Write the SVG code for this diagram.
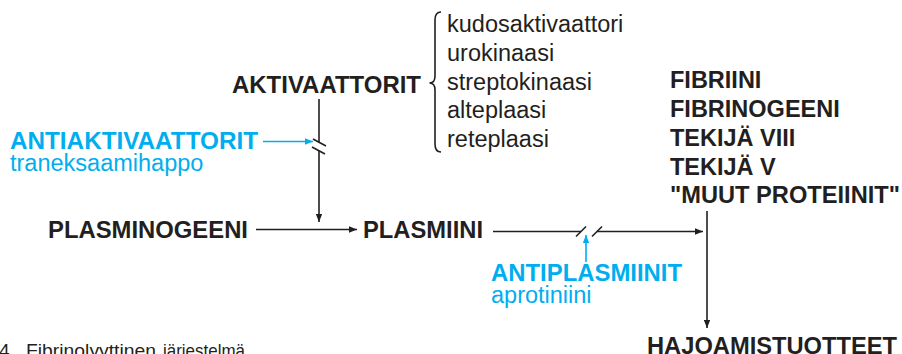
<svg xmlns="http://www.w3.org/2000/svg" width="902" height="354" viewBox="0 0 902 354">
<defs>
<style>
.b{font-family:"Liberation Sans",Arial,Helvetica,sans-serif;font-weight:bold;font-size:23.5px;fill:#231f20}
.r{font-family:"Liberation Sans",Arial,Helvetica,sans-serif;font-size:23.5px;fill:#231f20}
.bb{font-family:"Liberation Sans",Arial,Helvetica,sans-serif;font-weight:bold;font-size:23.5px;fill:#00aeef}
.rb{font-family:"Liberation Sans",Arial,Helvetica,sans-serif;font-size:23.5px;fill:#00aeef}
.cap{font-family:"Liberation Sans",Arial,Helvetica,sans-serif;font-size:19px;fill:#231f20}
.k{stroke:#231f20;stroke-width:1.6;fill:none}
.c{stroke:#00aeef;stroke-width:1.6;fill:none}
</style>
<marker id="ak" viewBox="0 0 10 8" refX="10" refY="4" markerWidth="8" markerHeight="6.4" markerUnits="userSpaceOnUse" orient="auto"><path d="M0 0 L10 4 L0 8 Z" fill="#231f20"/></marker>
<marker id="ac" viewBox="0 0 10 8" refX="10" refY="4" markerWidth="8" markerHeight="6.4" markerUnits="userSpaceOnUse" orient="auto"><path d="M0 0 L10 4 L0 8 Z" fill="#00aeef"/></marker>
</defs>
<g id="connectors">
<line class="k" x1="319" y1="99" x2="319" y2="142.5"/>
<line class="k" x1="313" y1="139" x2="326" y2="146"/>
<line class="k" x1="312" y1="147" x2="325" y2="154"/>
<line class="k" x1="319" y1="150.5" x2="319" y2="222" marker-end="url(#ak)"/>
<line class="c" x1="263" y1="141.5" x2="313" y2="141.5" marker-end="url(#ac)"/>
<line class="k" x1="256" y1="229.5" x2="357" y2="229.5" marker-end="url(#ak)"/>
<line class="k" x1="493" y1="231.5" x2="581" y2="231.5"/>
<line class="k" x1="576" y1="236.5" x2="586" y2="226.5"/>
<line class="k" x1="592" y1="236.5" x2="602" y2="226.5"/>
<line class="k" x1="597" y1="231.5" x2="703" y2="231.5" marker-end="url(#ak)"/>
<line class="c" x1="586" y1="262" x2="586" y2="235" marker-end="url(#ac)"/>
<line class="k" x1="707" y1="211" x2="707" y2="328" marker-end="url(#ak)"/>
<path class="k" d="M441 12 Q435 12 435 20 L435 76 Q435 83 429.5 83 Q435 83 435 90 L435 144 Q435 152 441 152"/>
</g>
<g id="aktivaattorit"><text class="b" x="232" y="93" textLength="189" lengthAdjust="spacingAndGlyphs">AKTIVAATTORIT</text></g>
<g id="aktivaattorilista">
<text class="r" x="447" y="32">kudosaktivaattori</text>
<text class="r" x="447" y="60.7">urokinaasi</text>
<text class="r" x="447" y="89.5">streptokinaasi</text>
<text class="r" x="447" y="118.2">alteplaasi</text>
<text class="r" x="447" y="147">reteplaasi</text>
</g>
<g id="antiaktivaattorit">
<text class="bb" x="10" y="148.5" textLength="248" lengthAdjust="spacingAndGlyphs">ANTIAKTIVAATTORIT</text>
<text class="rb" x="10" y="171">traneksaamihappo</text>
</g>
<g id="plasminogeeni"><text class="b" x="48" y="237.5" textLength="200" lengthAdjust="spacingAndGlyphs">PLASMINOGEENI</text></g>
<g id="plasmiini"><text class="b" x="363" y="237.5" textLength="120" lengthAdjust="spacingAndGlyphs">PLASMIINI</text></g>
<g id="antiplasmiinit">
<text class="bb" x="491" y="281" textLength="191" lengthAdjust="spacingAndGlyphs">ANTIPLASMIINIT</text>
<text class="rb" x="491" y="302.5">aprotiniini</text>
</g>
<g id="substraatit">
<text class="b" x="670" y="88">FIBRIINI</text>
<text class="b" x="670" y="117">FIBRINOGEENI</text>
<text class="b" x="670" y="146">TEKIJÄ VIII</text>
<text class="b" x="670" y="174.5">TEKIJÄ V</text>
<text class="b" x="670" y="203" textLength="230" lengthAdjust="spacingAndGlyphs">"MUUT PROTEIINIT"</text>
</g>
<g id="hajoamistuotteet"><text class="b" x="647" y="353.5" textLength="250" lengthAdjust="spacingAndGlyphs">HAJOAMISTUOTTEET</text></g>
<g id="caption">
<text class="cap" x="-1" y="357">4</text>
<text class="cap" x="26" y="357" textLength="130" lengthAdjust="spacingAndGlyphs">Fibrinolyyttinen</text>
<text class="cap" x="163" y="357" textLength="82" lengthAdjust="spacingAndGlyphs">järjestelmä</text>
</g>
</svg>
